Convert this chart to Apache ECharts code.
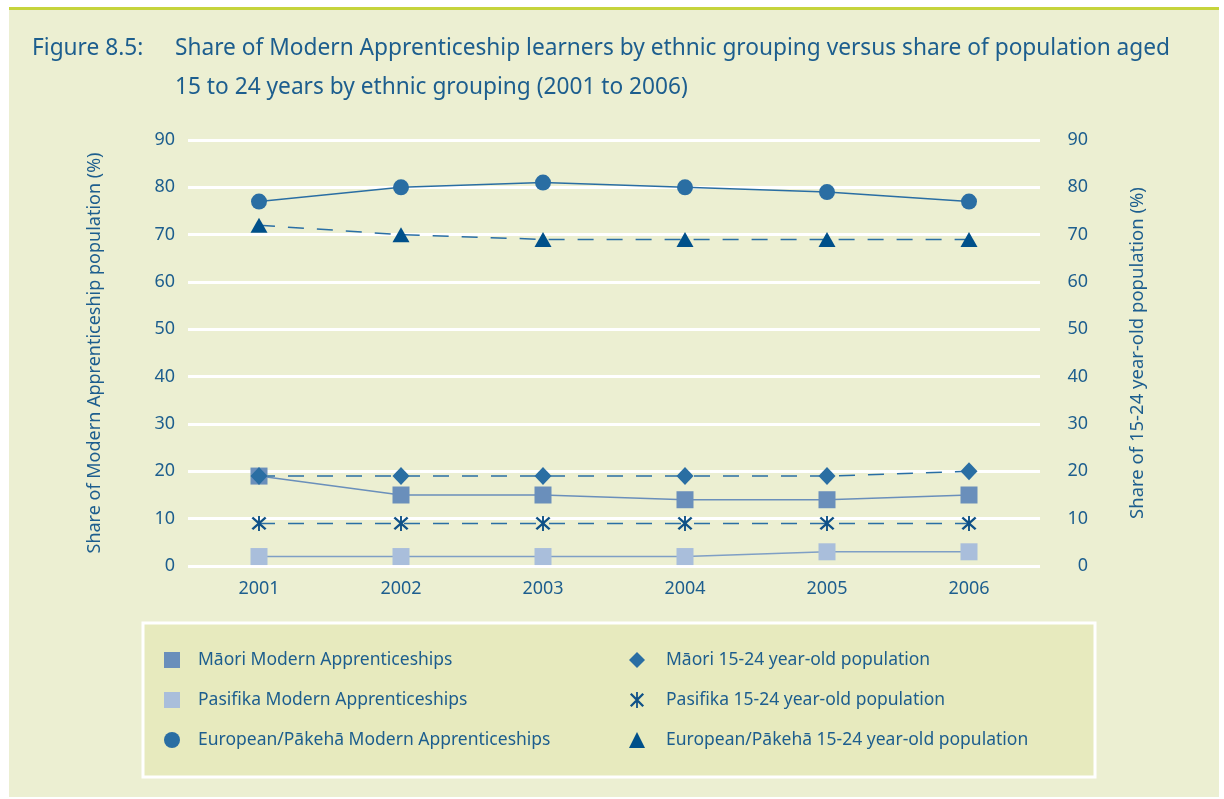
<!DOCTYPE html>
<html>
<head>
<meta charset="utf-8">
<title>Figure 8.5</title>
<script src="https://cdn.jsdelivr.net/npm/echarts@6/dist/echarts.min.js"></script>
<style>
  html, body { margin: 0; padding: 0; background: #fff; }
  #chart { width: 1224px; height: 799px; }
</style>
</head>
<body>
<div id="chart"></div>
<script>
// data
const years = ['2001', '2002', '2003', '2004', '2005', '2006'];
const maoriMA = [19, 15, 15, 14, 14, 15];
const pasifikaMA = [2, 2, 2, 2, 3, 3];
const europeanMA = [77, 80, 81, 80, 79, 77];
const maoriPop = [19, 19, 19, 19, 19, 20];
const pasifikaPop = [9, 9, 9, 9, 9, 9];
const europeanPop = [72, 70, 69, 69, 69, 69];

const blue = '#1d5e8e';
const font = '"Noto Sans", sans-serif';
const asterisk = 'path://M11,1L11,19L9,19L9,1Z' +
  'M3.92,2.08L17.92,16.08L16.08,17.92L2.08,3.92Z' +
  'M16.08,2.08L17.92,3.92L3.92,17.92L2.08,16.08Z';

const dash = { type: [16, 13], width: 1.5, color: '#2a6fa5' };

const chart = echarts.init(document.getElementById('chart'));

const option = {
  animation: false,
  backgroundColor: '#ffffff',
  textStyle: { fontFamily: font },
  graphic: [
    { type: 'rect', z: -10, shape: { x: 9, y: 8, width: 1210, height: 789 }, style: { fill: '#ecefd2' } },
    { type: 'rect', z: -9, shape: { x: 9, y: 7, width: 1210, height: 3 }, style: { fill: '#c6d43c' } },
    { type: 'rect', z: -8, shape: { x: 143, y: 623, width: 952, height: 154 }, style: { fill: '#e7eabe', stroke: '#ffffff', lineWidth: 3 } }
  ],
  title: [
    {
      text: 'Figure 8.5:',
      left: 27, top: 24,
      textStyle: { color: blue, fontSize: 22.7, fontWeight: 'normal', fontFamily: font, lineHeight: 39 }
    },
    {
      text: 'Share of Modern Apprenticeship learners by ethnic grouping versus share of population aged\n15 to 24 years by ethnic grouping (2001 to 2006)',
      left: 170, top: 24,
      textStyle: { color: blue, fontSize: 22.7, fontWeight: 'normal', fontFamily: font, lineHeight: 39 }
    }
  ],
  legend: [
    {
      orient: 'vertical',
      left: 159, top: 646,
      itemWidth: 16, itemHeight: 16, itemGap: 22,
      selectedMode: false,
      textStyle: { color: blue, fontSize: 17.5, lineHeight: 16, padding: [0, 0, 0, 13], fontFamily: font },
      data: [
        { name: 'Māori Modern Apprenticeships', icon: 'rect' },
        { name: 'Pasifika Modern Apprenticeships', icon: 'rect' },
        { name: 'European/Pākehā Modern Apprenticeships', icon: 'circle' }
      ]
    },
    {
      orient: 'vertical',
      left: 624, top: 646,
      itemWidth: 16, itemHeight: 16, itemGap: 22,
      selectedMode: false,
      textStyle: { color: blue, fontSize: 17.5, lineHeight: 16, padding: [0, 0, 0, 16], fontFamily: font },
      data: [
        { name: 'Māori 15-24 year-old population', icon: 'diamond' },
        { name: 'Pasifika 15-24 year-old population', icon: asterisk },
        { name: 'European/Pākehā 15-24 year-old population', icon: 'triangle' }
      ]
    }
  ],
  grid: { left: 188, right: 184, top: 140, bottom: 233 },
  xAxis: {
    type: 'category',
    data: years,
    axisLine: { show: false },
    axisTick: { show: false },
    axisLabel: { color: blue, fontSize: 18, margin: 14, fontFamily: font }
  },
  yAxis: [
    {
      type: 'value', min: 0, max: 90, interval: 10,
      name: 'Share of Modern Apprenticeship population (%)',
      nameLocation: 'middle', nameGap: 84,
      nameTextStyle: { color: blue, fontSize: 18, fontFamily: font },
      axisLine: { show: false }, axisTick: { show: false },
      axisLabel: { color: blue, fontSize: 18, margin: 13, fontFamily: font },
      splitLine: { lineStyle: { color: '#ffffff', width: 3 } }
    },
    {
      type: 'value', min: 0, max: 90, interval: 10,
      name: 'Share of 15-24 year-old population (%)',
      nameLocation: 'middle', nameGap: 88,
      nameTextStyle: { color: blue, fontSize: 18.5, fontFamily: font },
      axisLine: { show: false }, axisTick: { show: false },
      axisLabel: { color: blue, fontSize: 18, margin: 48, align: 'right', fontFamily: font },
      splitLine: { show: false }
    }
  ],
  series: [
    {
      name: 'Māori Modern Apprenticeships', type: 'line', data: maoriMA,
      symbol: 'rect', symbolSize: 17,
      itemStyle: { color: '#6a8fbb' },
      lineStyle: { color: '#6a8fbb', width: 1.5 }
    },
    {
      name: 'Pasifika Modern Apprenticeships', type: 'line', data: pasifikaMA,
      symbol: 'rect', symbolSize: 17,
      itemStyle: { color: '#a9bedb' },
      lineStyle: { color: '#7f9fc5', width: 1.5 }
    },
    {
      name: 'European/Pākehā Modern Apprenticeships', type: 'line', data: europeanMA,
      symbol: 'circle', symbolSize: 16,
      itemStyle: { color: '#2a6ea3' },
      lineStyle: { color: '#2a6ea3', width: 1.5 }
    },
    {
      name: 'Māori 15-24 year-old population', type: 'line', data: maoriPop,
      symbol: 'diamond', symbolSize: [17, 18],
      itemStyle: { color: '#2a6ea3' },
      lineStyle: dash
    },
    {
      name: 'Pasifika 15-24 year-old population', type: 'line', data: pasifikaPop,
      symbol: asterisk, symbolSize: 15,
      itemStyle: { color: '#0f5187' },
      lineStyle: dash
    },
    {
      name: 'European/Pākehā 15-24 year-old population', type: 'line', data: europeanPop,
      symbol: 'triangle', symbolSize: [17, 15],
      itemStyle: { color: '#00508a' },
      lineStyle: dash
    }
  ]
};

chart.setOption(option);
</script>
</body>
</html>
